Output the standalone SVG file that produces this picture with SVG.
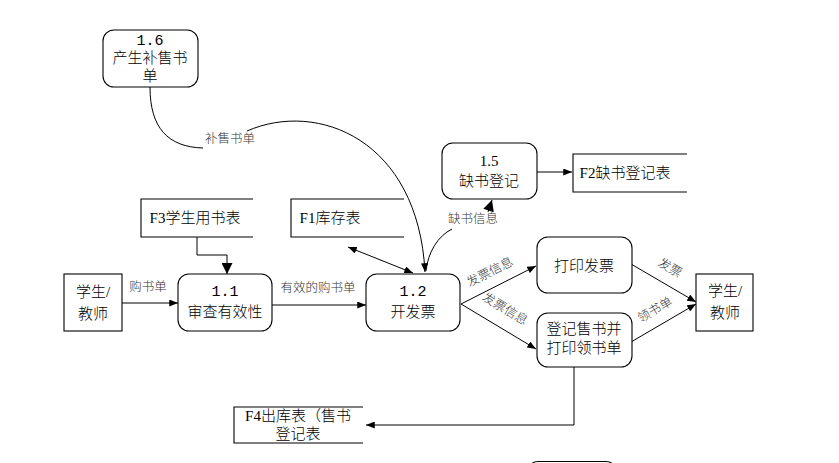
<svg xmlns="http://www.w3.org/2000/svg" width="839" height="463" viewBox="0 0 839 463">
<style>
.n{fill:#fff;stroke:#000;stroke-width:1.1}
.s{fill:none;stroke:#000;stroke-width:1.1}
.t{font-family:"Liberation Serif","Noto Sans CJK SC",serif;font-size:15px;font-weight:300;text-anchor:middle;fill:#000;dominant-baseline:central}
.m{font-family:"Liberation Mono","Noto Sans CJK SC",monospace;font-size:15px;text-anchor:middle;fill:#000;dominant-baseline:central}
.l{font-family:"Liberation Serif","Noto Sans CJK SC",serif;font-size:12.5px;font-weight:300;text-anchor:middle;fill:#333;dominant-baseline:central}
.c{fill:none;stroke:#000;stroke-width:1}
</style>
<defs>
<marker id="a" viewBox="0 0 10 8" refX="10" refY="4" markerWidth="9" markerHeight="7" markerUnits="userSpaceOnUse" orient="auto-start-reverse">
<path d="M0,0 L10,4 L0,8 z" fill="#000"/>
</marker>
<marker id="b" viewBox="0 0 10 10" refX="10" refY="5" markerWidth="12" markerHeight="11" markerUnits="userSpaceOnUse" orient="auto">
<path d="M0,0 L10,5 L0,10 z" fill="#000"/>
</marker>
</defs>

<g id="connectors">
<path class="c" d="M150,87 C150,128 168,147 203,148"/>
<path class="c" d="M247,131 C318,100 418,140 425,272" marker-end="url(#a)"/>
<text class="l" x="230" y="139">补售书单</text>
<path class="c" d="M426,271 C428,252 438,236 452,229"/>
<path class="c" d="M488,212 L492,200" marker-end="url(#b)"/>
<text class="l" x="473" y="219">缺书信息</text>
<path class="c" d="M537,172 L572,172" marker-end="url(#a)"/>
<path class="c" d="M197,237 L197,255 L227,255 L227,274" marker-end="url(#b)" stroke-width="1.6" stroke="#333"/>
<path class="c" d="M348,247 L413,273" marker-start="url(#a)" marker-end="url(#a)"/>
<path class="c" d="M122,303 L178,303" marker-end="url(#a)" stroke-width="1.5" stroke="#444"/>
<text class="l" x="148" y="287">购书单</text>
<path class="c" d="M272,305 L366,305" marker-end="url(#a)"/>
<text class="l" x="318" y="288">有效的购书单</text>
<path class="c" d="M461,304 L536,266" marker-end="url(#a)"/>
<text class="l" x="490" y="272" transform="rotate(-27 490 272)">发票信息</text>
<path class="c" d="M461,304 L536,349" marker-end="url(#a)"/>
<text class="l" x="505" y="309" transform="rotate(31 505 309)">发票信息</text>
<path class="c" d="M631,264 L696,302" marker-end="url(#a)"/>
<text class="l" x="670" y="268" transform="rotate(30 670 268)">发票</text>
<path class="c" d="M631,342 L696,304" marker-end="url(#a)"/>
<text class="l" x="655" y="310" transform="rotate(-30 655 310)">领书单</text>
<path class="c" d="M574,367 L574,425 L366,425" marker-end="url(#a)"/>
</g>

<g id="n16">
<rect class="n" x="103" y="30" width="95" height="57" rx="11"/>
<text class="m" x="150" y="41">1.6</text>
<text class="t" x="150" y="58">产生补售书</text>
<text class="t" x="150" y="76">单</text>
</g>
<g id="n15">
<rect class="n" x="442" y="143" width="95" height="56" rx="11"/>
<text class="t" x="489" y="161">1.5</text>
<text class="t" x="489" y="181">缺书登记</text>
</g>
<g id="f2">
<path class="s" d="M687,154 L573,154 L573,192 L687,192"/>
<text class="t" x="625" y="173">F2缺书登记表</text>
</g>
<g id="f3">
<path class="s" d="M253,199 L141,199 L141,237 L253,237"/>
<text class="t" x="195" y="218">F3学生用书表</text>
</g>
<g id="f1">
<path class="s" d="M404,199 L291,199 L291,237 L404,237"/>
<text class="t" x="330" y="218">F1库存表</text>
</g>
<g id="student1">
<rect class="n" x="64" y="274" width="58" height="57"/>
<text class="t" x="93" y="292">学生/</text>
<text class="t" x="93" y="314">教师</text>
</g>
<g id="n11">
<rect class="n" x="178" y="274" width="94" height="57" rx="11"/>
<text class="m" x="225" y="292">1.1</text>
<text class="t" x="225" y="312">审查有效性</text>
</g>
<g id="n12">
<rect class="n" x="366" y="274" width="94" height="57" rx="11"/>
<text class="m" x="413" y="292">1.2</text>
<text class="t" x="413" y="312">开发票</text>
</g>
<g id="print">
<rect class="n" x="537" y="237" width="95" height="56" rx="11"/>
<text class="t" x="584" y="266">打印发票</text>
</g>
<g id="register">
<rect class="n" x="537" y="313" width="95" height="54" rx="11"/>
<text class="t" x="584" y="329">登记售书并</text>
<text class="t" x="584" y="348">打印领书单</text>
</g>
<g id="student2">
<rect class="n" x="696" y="274" width="57" height="57"/>
<text class="t" x="725" y="291">学生/</text>
<text class="t" x="725" y="313">教师</text>
</g>
<g id="f4">
<path class="s" d="M363,407 L234,407 L234,443 L363,443"/>
<text class="t" x="298" y="416">F4出库表（售书</text>
<text class="t" x="298" y="434">登记表</text>
</g>
<g id="partial">
<rect class="n" x="527" y="461.5" width="90" height="50" rx="11"/>
</g>
</svg>
